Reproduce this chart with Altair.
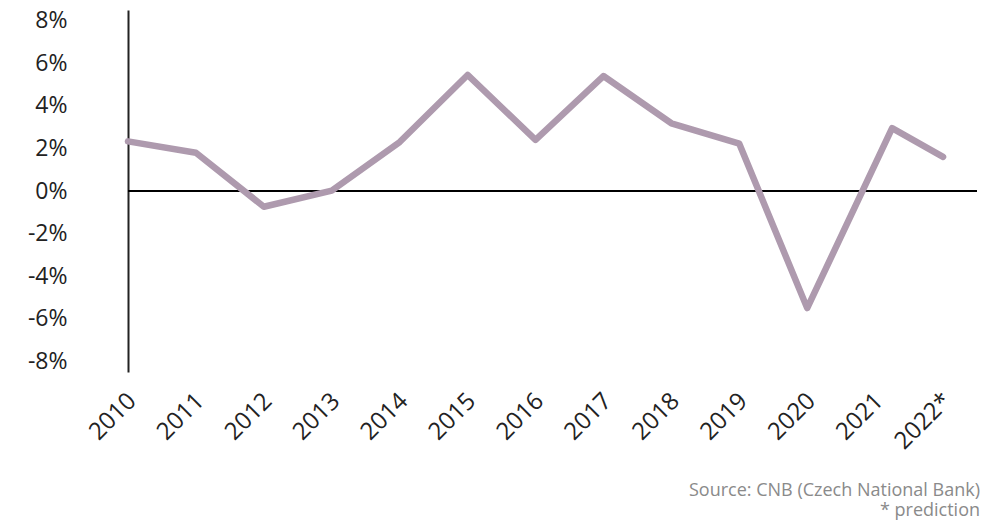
import altair as alt
import pandas as pd

years = [2010, 2011, 2012, 2013, 2014, 2015, 2016, 2017, 2018, 2019, 2020, 2021.25, 2022]
growth = [2.33, 1.80, -0.74, 0.02, 2.3, 5.45, 2.4, 5.4, 3.18, 2.22, -5.5, 2.95, 1.6]
tick_years = [2010, 2011, 2012, 2013, 2014, 2015, 2016, 2017, 2018, 2019, 2020, 2021, 2022]
y_ticks = [-8, -6, -4, -2, 0, 2, 4, 6, 8]
notes = ["Source: CNB (Czech National Bank)", "* prediction"]

df = pd.DataFrame({"year": years, "growth": growth})

FONT = "Open Sans"

x_enc = alt.X(
    "year:Q",
    scale=alt.Scale(domain=[2010, 2022.5], nice=False, zero=False),
    axis=alt.Axis(
        values=tick_years,
        labelExpr="datum.value == 2022 ? '2022*' : datum.value",
        labelAngle=-45,
        labelAlign="right",
        labelBaseline="middle",
        labelFontSize=24,
        labelFont=FONT,
        labelColor="#222222",
        labelPadding=25,
        labelOffset=4,
        ticks=False,
        domain=False,
        grid=False,
        title=None,
        labelOverlap=False,
    ),
)
y_enc = alt.Y(
    "growth:Q",
    scale=alt.Scale(domain=[-8.5, 8.5], nice=False, zero=False),
    axis=alt.Axis(
        values=y_ticks,
        labelExpr="datum.value + '%'",
        labelFontSize=23,
        labelFont=FONT,
        labelColor="#222222",
        labelPadding=61,
        ticks=False,
        domain=True,
        domainColor="#222222",
        domainWidth=2,
        grid=False,
        title=None,
    ),
)

line = alt.Chart(df).mark_line(
    color="#ae9aae", strokeWidth=6.5, strokeCap="round", strokeJoin="round"
).encode(x=x_enc, y=y_enc)

zero = alt.Chart(df).mark_rule(color="#000000", strokeWidth=2).encode(y=alt.datum(0))

note1 = alt.Chart(pd.DataFrame({"t": [notes[0]]})).mark_text(
    align="right", baseline="middle", fontSize=18, font=FONT, color="#8a8a8a"
).encode(x=alt.value(852), y=alt.value(481), text="t:N")
note2 = alt.Chart(pd.DataFrame({"t": [notes[1]]})).mark_text(
    align="right", baseline="middle", fontSize=18, font=FONT, color="#8a8a8a"
).encode(x=alt.value(852), y=alt.value(501), text="t:N")

chart = alt.layer(zero, line, note1, note2).properties(
    width=849,
    height=362,
    autosize=alt.AutoSizeParams(type="none"),
    padding={"left": 120, "top": 2, "right": 4, "bottom": 148},
).configure_view(stroke=None)

chart.save("out.html", embed_options={"renderer": "svg", "actions": False})
